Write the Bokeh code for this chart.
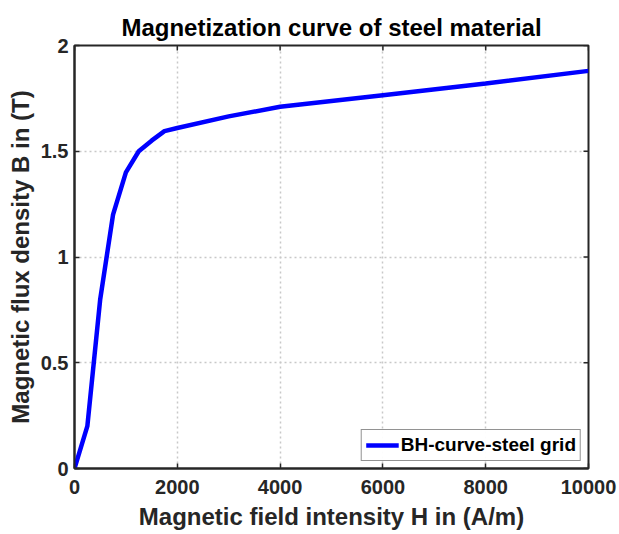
import math
from bokeh.plotting import figure
from bokeh.models import Range1d, FixedTicker, Legend, LegendItem
from bokeh.embed import file_html
from bokeh.resources import INLINE

# Data
H = [0, 250, 500, 750, 1000, 1250, 1500, 1750, 2000, 3000, 4000, 6000, 8000, 10000]
B = [0, 0.2, 0.8, 1.2, 1.4, 1.5, 1.55, 1.595, 1.61, 1.665, 1.71, 1.765, 1.82, 1.88]
x_ticks = [0, 2000, 4000, 6000, 8000, 10000]
y_ticks = [0, 0.5, 1, 1.5, 2]
y_tick_labels = ["0", "0.5", "1", "1.5", "2"]

FONT = "Liberation Sans"
DARK = "#262626"

p = figure(width=619, height=534, output_backend="svg", toolbar_location=None,
           x_range=Range1d(x_ticks[0], x_ticks[-1]), y_range=Range1d(y_ticks[0], y_ticks[-1]),
           min_border_left=74, min_border_right=31, min_border_top=45, min_border_bottom=66,
           title="Magnetization curve of steel material")

p.title.text_font = FONT
p.title.text_font_size = "24px"
p.title.text_font_style = "bold"
p.title.align = "center"
p.title.text_color = "black"

p.xgrid.ticker = FixedTicker(ticks=x_ticks)
p.ygrid.ticker = FixedTicker(ticks=y_ticks)
for g in (p.xgrid[0], p.ygrid[0]):
    g.grid_line_color = "#c8c8c8"
    g.grid_line_dash = "2 3"
    g.grid_line_width = 1.5

line = p.line(H, B, line_color="#0000ff", line_width=4.5)

# inward ticks on the top and right edges of the box
p.scatter(x_ticks, [y_ticks[-1]] * len(x_ticks), marker="dash", angle=math.pi / 2,
          size=10, line_color=DARK, line_width=1.5)
p.scatter([x_ticks[-1]] * len(y_ticks), y_ticks, marker="dash",
          size=10, line_color=DARK, line_width=1.5)

p.outline_line_color = DARK
p.outline_line_width = 2
p.outline_line_alpha = 1
p.background_fill_color = "white"
p.border_fill_color = "white"

for ax in (p.xaxis[0], p.yaxis[0]):
    ax.axis_line_color = DARK
    ax.axis_line_width = 2
    ax.major_tick_in = 5
    ax.major_tick_out = 0
    ax.minor_tick_line_color = None
    ax.major_tick_line_color = DARK
    ax.major_tick_line_width = 1.5
    ax.major_label_text_font = FONT
    ax.major_label_text_font_size = "20px"
    ax.major_label_text_font_style = "bold"
    ax.major_label_text_color = DARK
    ax.axis_label_text_font = FONT
    ax.axis_label_text_font_size = "24px"
    ax.axis_label_text_font_style = "bold"
    ax.axis_label_text_color = DARK

p.xaxis[0].ticker = FixedTicker(ticks=x_ticks)
p.yaxis[0].ticker = FixedTicker(ticks=y_ticks)
p.yaxis[0].major_label_overrides = {t: s for t, s in zip(y_ticks, y_tick_labels)}
p.xaxis[0].axis_label = "Magnetic field intensity H in (A/m)"
p.yaxis[0].axis_label = "Magnetic flux density B in (T)"
p.xaxis[0].major_label_standoff = 11
p.xaxis[0].axis_label_standoff = 6
p.yaxis[0].major_label_standoff = 6
p.yaxis[0].axis_label_standoff = 4

legend = Legend(items=[LegendItem(label="BH-curve-steel grid", renderers=[line])],
                location="bottom_right")
legend.label_text_font = FONT
legend.label_text_font_size = "19px"
legend.label_text_font_style = "bold"
legend.label_text_color = "black"
legend.border_line_color = DARK
legend.border_line_width = 1.5
legend.glyph_width = 33
legend.label_standoff = 2
legend.padding = 4
legend.margin = 7
legend.label_height = 22
legend.glyph_height = 22
p.add_layout(legend)

open("out.html", "w").write(file_html(p, INLINE))
